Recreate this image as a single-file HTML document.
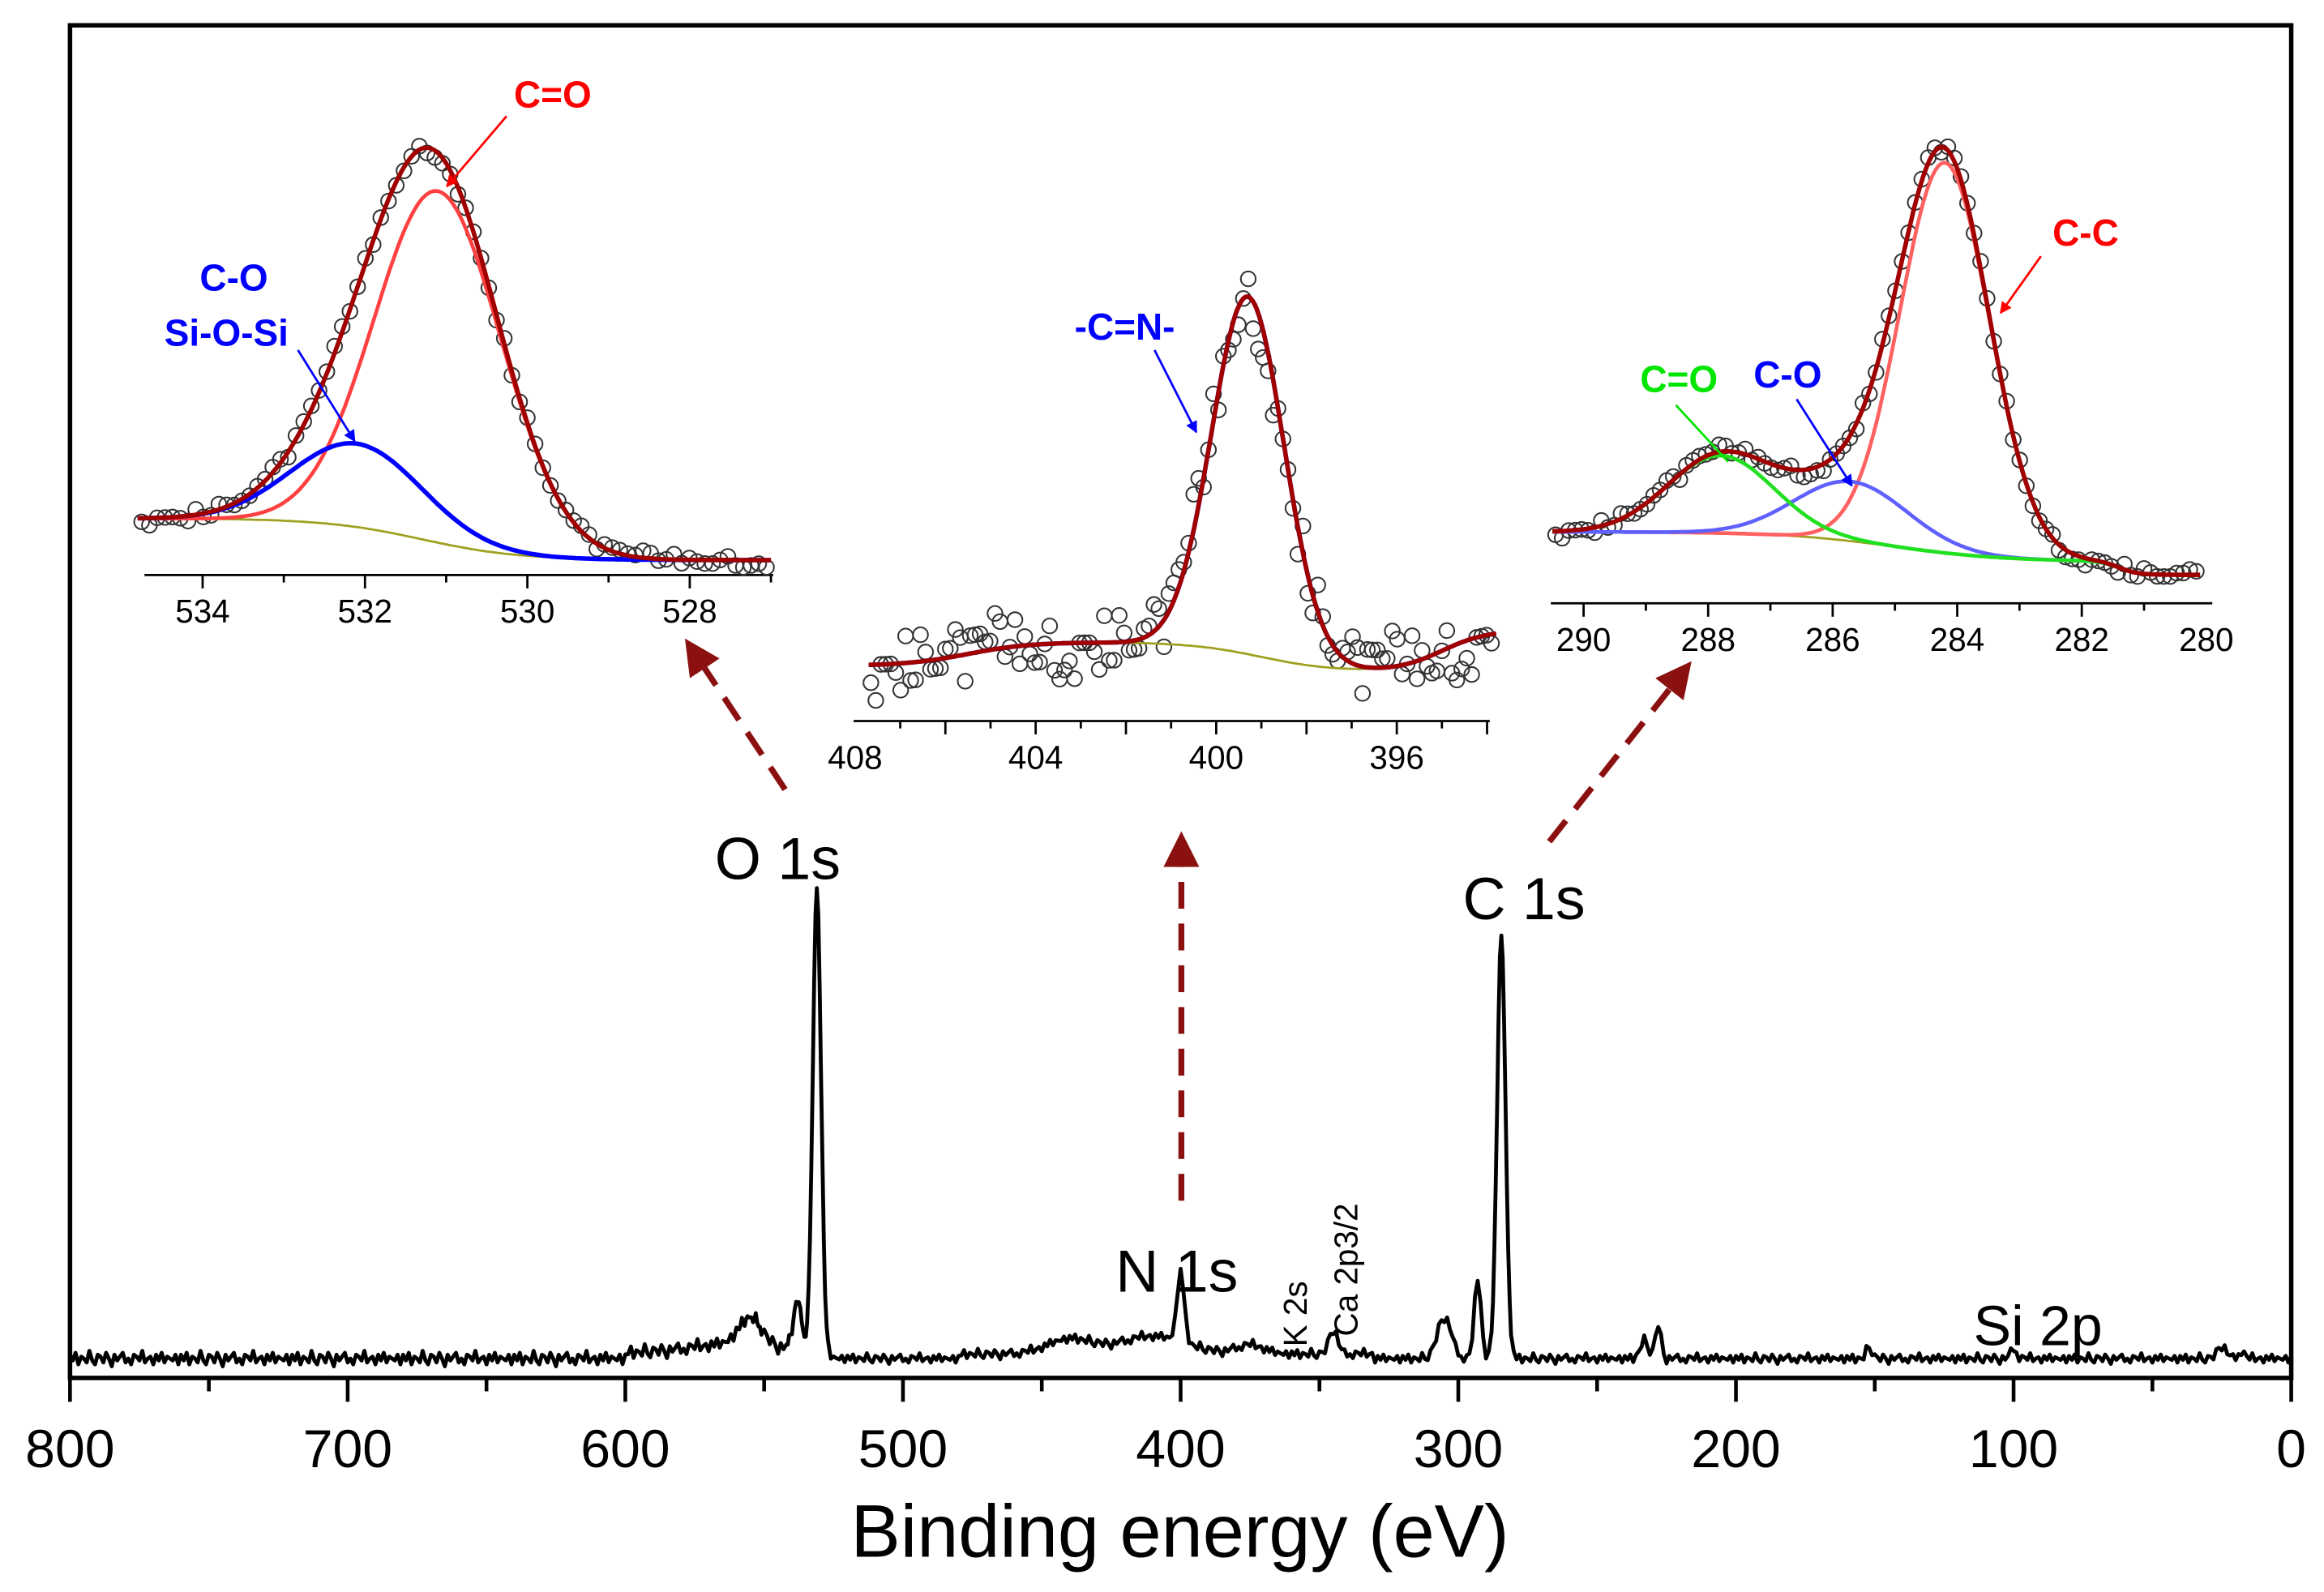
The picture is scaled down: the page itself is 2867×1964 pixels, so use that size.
<!DOCTYPE html>
<html><head><meta charset="utf-8">
<style>
html,body{margin:0;padding:0;background:#fff;}
svg{display:block;}
text{font-family:"Liberation Sans",Arial,sans-serif;}
</style></head>
<body>
<svg id="chart" width="2867" height="1964" viewBox="0 0 1560 1068.7" preserveAspectRatio="none" xmlns="http://www.w3.org/2000/svg">
<defs>
<marker id="ahDark" markerWidth="6" markerHeight="6" refX="5" refY="3" orient="auto" markerUnits="strokeWidth"><path d="M0,0 L6,3 L0,6 z" fill="#8b1010"/></marker>
<marker id="ahBlue" markerWidth="8" markerHeight="8" refX="7" refY="4" orient="auto" markerUnits="userSpaceOnUse"><path d="M0,0 L8,4 L0,8 z" fill="#0000ff"/></marker>
<marker id="ahRed" markerWidth="8" markerHeight="8" refX="7" refY="4" orient="auto" markerUnits="userSpaceOnUse"><path d="M0,0 L8,4 L0,8 z" fill="#ff0000"/></marker>
</defs>
<rect x="47" y="17" width="1491" height="908" fill="none" stroke="#000" stroke-width="3"/>
<g id="main"></g>
<g id="insets"></g>
<g id="labels">
<text x="522" y="590" font-size="40" text-anchor="middle">O 1s</text>
<text x="1023" y="617" font-size="40" text-anchor="middle">C 1s</text>
<text x="790" y="867" font-size="40" text-anchor="middle">N 1s</text>
<text x="1368" y="903" font-size="38" text-anchor="middle">Si 2p</text>
<text transform="translate(877,904) rotate(-90)" font-size="22">K 2s</text>
<text transform="translate(911,897) rotate(-90)" font-size="22">Ca 2p3/2</text>
<text x="371" y="72" font-size="25" font-weight="bold" fill="#ff0000" text-anchor="middle">C=O</text>
<line x1="340" y1="78" x2="300" y2="125" stroke="#ff0000" stroke-width="1.5" marker-end="url(#ahRed)"/>
<text x="157" y="195" font-size="25" font-weight="bold" fill="#0000ff" text-anchor="middle">C-O</text>
<text x="152" y="232" font-size="25" font-weight="bold" fill="#0000ff" text-anchor="middle">Si-O-Si</text>
<line x1="200" y1="235" x2="238" y2="296" stroke="#0000ff" stroke-width="1.5" marker-end="url(#ahBlue)"/>
<text x="755" y="228" font-size="25" font-weight="bold" fill="#0000ff" text-anchor="middle">-C=N-</text>
<line x1="775" y1="235" x2="803" y2="290" stroke="#0000ff" stroke-width="1.5" marker-end="url(#ahBlue)"/>
<text x="1400" y="165" font-size="25" font-weight="bold" fill="#ff0000" text-anchor="middle">C-C</text>
<line x1="1370" y1="172" x2="1343" y2="210" stroke="#ff0000" stroke-width="1.5" marker-end="url(#ahRed)"/>
<text x="1127" y="263" font-size="25" font-weight="bold" fill="#00e600" text-anchor="middle">C=O</text>
<line x1="1125" y1="272" x2="1160" y2="310" stroke="#00e600" stroke-width="1.5"/>
<text x="1200" y="260" font-size="25" font-weight="bold" fill="#0000ff" text-anchor="middle">C-O</text>
<line x1="1206" y1="268" x2="1243" y2="326" stroke="#0000ff" stroke-width="1.5" marker-end="url(#ahBlue)"/>
<line x1="527" y1="530" x2="462" y2="432" stroke="#8b1010" stroke-width="4" stroke-dasharray="18,10" marker-end="url(#ahDark)"/>
<line x1="793" y1="806" x2="793" y2="562" stroke="#8b1010" stroke-width="4" stroke-dasharray="18,10" marker-end="url(#ahDark)"/>
<line x1="1040" y1="565" x2="1133" y2="447" stroke="#8b1010" stroke-width="4" stroke-dasharray="18,10" marker-end="url(#ahDark)"/>
<text x="792" y="1045" font-size="50" text-anchor="middle">Binding energy (eV)</text>
</g>
</svg>
<script>
// ---- survey spectrum data ----
const surveyTicks = ["800","700","600","500","400","300","200","100","0"];
const peakCenters = [531, 538, 555, 284.5, 293, 305, 400, 345, 228, 233, 152, 100, 25, 18, 440, 410, 375, 560];
const peakHeights = [314, 38, 18, 284, 54, 28, 47, 17, 23, 12, 8, 7, 9, 5, 10, 12, 6, 6];
const peakWidths  = [1.5, 1.5, 4, 1.5, 1.2, 2.5, 1.3, 1.5, 1.0, 1.5, 1.0, 1.0, 1.5, 1.0, 8, 12, 5, 15];
const noiseVals = [2,-1,3,-3,1,0,-2,4,-1,-3,2,1,-2,3,0,-4,2,-1,1,3,-2,0,-3,2,1,-1,4,-2,0,1,-3,2,-1,3,-2,1,0,-1,2,-3];

// ---- inset data (O 1s, N 1s, C 1s) ----
const o1sCenters = [531.1, 532.1];
const o1sAmps = [236, 56];
const o1sSigmas = [0.78, 0.8];
const n1sCenters = [399.3];
const n1sAmps = [240];
const n1sSigmas = [0.8];
const c1sCenters = [284.2, 285.7, 287.8];
const c1sAmps = [262, 40, 52];
const c1sSigmas = [0.72, 0.9, 0.85];
const o1sTicks = [534, 532, 530, 528];
const n1sTicks = [408, 404, 400, 396];
const c1sTicks = [290, 288, 286, 284, 282, 280];

const NS = "http://www.w3.org/2000/svg";
function mk(tag, attrs, parent){const e=document.createElementNS(NS,tag);for(const k in attrs)e.setAttribute(k,attrs[k]);parent.appendChild(e);return e;}
const gauss=(x,c,a,s)=>a*Math.exp(-0.5*((x-c)/s)*((x-c)/s));

// survey axis
const main=document.getElementById('main');
const xS=e=>47+(800-e)/800*1491;
const yS=v=>912-v;
for(let e=0;e<=800;e+=50){
  const major=e%100===0;
  const t=mk('line',{x1:xS(e),x2:xS(e),y1:925,y2:925+(major?16:9),stroke:'#000','stroke-width':2.5},main);
  
  
}
surveyTicks.forEach(s=>{
  const t=mk('text',{x:xS(+s),y:985,'font-size':36,'text-anchor':'middle'},main);
  t.textContent=s;
  
  
});
let d='';let i=0;
for(let e=800;e>=0;e-=1.0){
  let v=0;
  for(let k=0;k<peakCenters.length;k++) v+=gauss(e,peakCenters[k],peakHeights[k],peakWidths[k]);
  const bg=(e>540&&e<600?4:0)+(e>330&&e<480?3:0);
  v+=bg+noiseVals[i%noiseVals.length]*(e>540?1.3:0.9);
  d+=(i?'L':'M')+xS(e).toFixed(1)+','+yS(v).toFixed(1);
  i++;
  for(let k=0;k<4;k++){ if(Math.abs(e-0.5-peakCenters[k])<4){ let w=0; for(let m=0;m<peakCenters.length;m++) w+=gauss(e-0.5,peakCenters[m],peakHeights[m],peakWidths[m]); d+='L'+xS(e-0.5).toFixed(1)+','+yS(w+bg).toFixed(1); break; } }
}
const sp=mk('path',{d:d,fill:'none',stroke:'#000','stroke-width':2.6,'stroke-linejoin':'round'},main);



// insets
const ins=document.getElementById('insets');
function inset(cfg){
  const g=mk('g',{},ins);
  
  
  const X=e=>cfg.x0+(cfg.e0-e)*cfg.ppe;
  const sig=(e,c,w)=>1/(1+Math.exp(-(e-c)/w));
  const bg=e=>{
    let b=cfg.bgLow+(cfg.bgHigh-cfg.bgLow)*sig(e,cfg.bgC,cfg.bgW);
    (cfg.extra||[]).forEach(x=>{b+=x[0]*sig(e,x[1],x[2]);});
    return b;
  };
  mk('line',{x1:cfg.ax0,x2:cfg.ax1,y1:cfg.ay,y2:cfg.ay,stroke:'#000','stroke-width':1.5},g);
  for(let e=Math.ceil(cfg.eMin);e<=cfg.eMax;e+=cfg.minor){
    const major=Math.abs(e%cfg.major)<1e-6;
    const t=mk('line',{x1:X(e),x2:X(e),y1:cfg.ay,y2:cfg.ay+(major?9:5),stroke:'#000','stroke-width':1.5},g);
    
    
  }
  cfg.ticks.forEach(v=>{
    const t=mk('text',{x:X(v),y:cfg.ay+32,'font-size':22,'text-anchor':'middle'},g);
    t.textContent=v;
    
    
  });
  const env=e=>{let s=bg(e);for(let k=0;k<cfg.c.length;k++)s-=gauss(e,cfg.c[k],cfg.a[k],cfg.s[k]);return s;};
  let n=0;
  for(let e=cfg.eMax-0.05;e>=cfg.eMin;e-=cfg.step){
    const off=noiseVals[(n*7)%noiseVals.length]*cfg.noise;
    const c=mk('circle',{cx:X(e).toFixed(1),cy:(env(e)+off).toFixed(1),r:5,fill:'none',stroke:'#333','stroke-width':1.1},g);
    
    
    n++;
  }
  const line=(f,col,w,name)=>{
    let p='';let j=0;
    for(let e=cfg.eMax;e>=cfg.eMin-1e-6;e-=0.05){p+=(j?'L':'M')+X(e).toFixed(1)+','+f(e).toFixed(1);j++;}
    const l=mk('path',{d:p,fill:'none',stroke:col,'stroke-width':w},g);
    
    
  };
  line(bg,'#a0a020',1.5,'background-line');
  for(let k=0;k<cfg.c.length;k++){
    line(e=>bg(e)-gauss(e,cfg.c[k],cfg.a[k],cfg.s[k]),cfg.cols[k],cfg.widths[k],'component-peak');
  }
  line(env,'#a00000',3,'envelope-fit');
}
inset({name:'o1s-inset',x0:136,e0:534,ppe:54.5,eMin:527,eMax:534.8,ax0:97,ax1:519,ay:386,minor:1,major:2,ticks:o1sTicks,
  bgLow:376,bgHigh:348,bgC:531.3,bgW:0.6,c:o1sCenters,a:o1sAmps,s:o1sSigmas,cols:['#ff4040','#0000ff'],widths:[2.5,3],step:0.095,noise:1.2});
inset({name:'n1s-inset',x0:574,e0:408,ppe:30.3,eMin:393.8,eMax:407.7,ax0:573,ax1:1000,ay:484,minor:1,major:2,ticks:n1sTicks,
  bgLow:451,bgHigh:431,bgC:399,bgW:0.8,extra:[[16,405.5,0.7],[-28,395,-0.5]],
  c:n1sCenters,a:n1sAmps,s:n1sSigmas,cols:['#0000ff'],widths:[3],step:0.11,noise:6});
inset({name:'c1s-inset',x0:1063,e0:290,ppe:41.8,eMin:280.1,eMax:290.5,ax0:1041,ax1:1485,ay:405,minor:1,major:2,ticks:c1sTicks,
  bgLow:386,bgHigh:366,bgC:285,bgW:0.9,extra:[[-9,281.4,0.15]],c:c1sCenters,a:c1sAmps,s:c1sSigmas,cols:['#ff6060','#6060ff','#20e020'],widths:[2.5,2.5,2.5],step:0.105,noise:1.2});
</script>
</body></html>
